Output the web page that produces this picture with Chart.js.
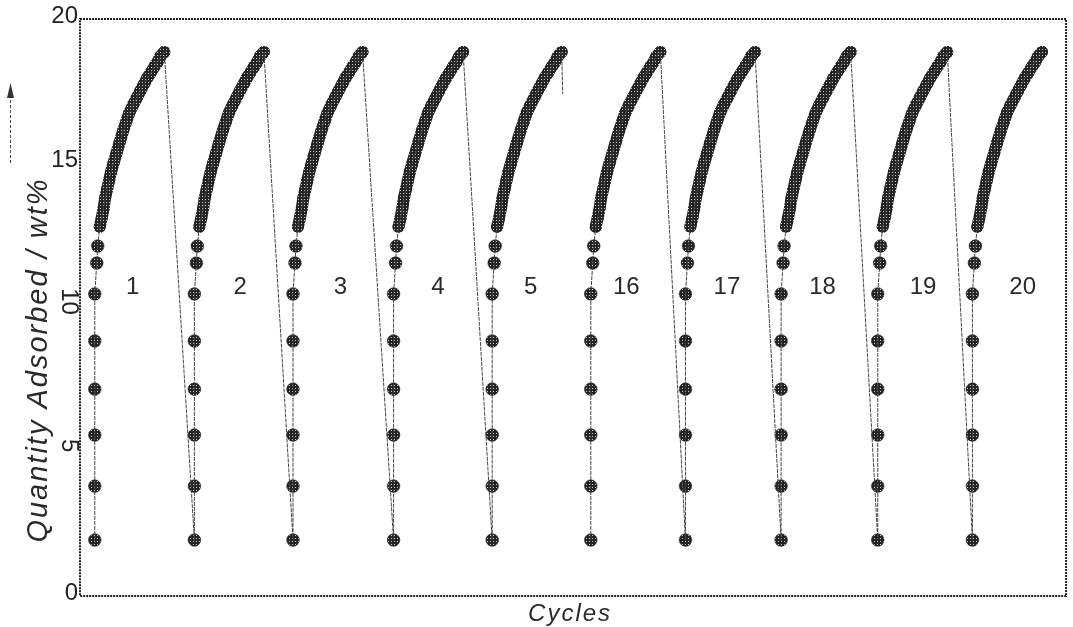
<!DOCTYPE html>
<html>
<head>
<meta charset="utf-8">
<script src="https://cdn.jsdelivr.net/npm/chart.js@4.4.1/dist/chart.umd.min.js"></script>
<style>
  body { margin: 0; background: #fff; }
  #wrap { width: 1073px; height: 627px; }
</style>
</head>
<body>
<div id="wrap"><canvas id="cycleChart" width="1073" height="627"></canvas></div>
<script>
// cycle numbers written next to each adsorption run
const cycleNames = ['1', '2', '3', '4', '5', '16', '17', '18', '19', '20'];
// time where each run starts (x axis, arbitrary units 0..100)
const cycleStart = [1.5, 11.6, 21.6, 31.8, 41.8, 51.8, 61.4, 71.1, 80.9, 90.5];

// the separate dots at the start of a run
const rampQty = [1.94, 3.81, 5.58, 7.17, 8.84, 10.47, 11.54, 12.13];
const rampShift = [0, 0, 0, 0, 0, 0, 0.2, 0.3];

const curveQty = [12.8, 13.1, 13.45, 13.8, 14.1, 14.4, 14.7, 15.0, 15.35, 15.7, 16.15, 16.45,
                  16.75, 17.0, 17.3, 17.5, 17.75, 17.95, 18.13, 18.35, 18.5, 18.7, 18.86];
const curveShift = [0.5, 0.7, 0.9, 1.05, 1.25, 1.45, 1.65, 1.9, 2.2, 2.5, 2.9, 3.2,
                    3.5, 3.85, 4.3, 4.6, 5.0, 5.3, 5.65, 6.05, 6.35, 6.65, 7.05];

// the trace after cycle 5 stops short
const brokenCycle = 4;
const brokenDropQty = 17.4;

// where the cycle numbers sit
const labelX = [5.35, 16.25, 26.4, 36.3, 45.7, 55.4, 65.6, 75.3, 85.5, 95.6];
const labelQty = 10.7;

const yTicks = [0, 5, 10, 15, 20];
const rotatedTicks = [5, 10];

const FONT = "'Liberation Sans', Arial, sans-serif";

// build the point lists
const ramp = [];
const curve = [];
const trace = [];
cycleStart.forEach((x0, c) => {
  rampQty.forEach((q, i) => {
    const p = { x: x0 + rampShift[i], y: q };
    ramp.push(p);
    trace.push(p);
  });
  curveQty.forEach((q, i) => {
    const p = { x: x0 + curveShift[i], y: q };
    curve.push(p);
    trace.push(p);
  });
  const last = curveShift.length - 1;
  curve.push({ x: x0 + curveShift[last] + 0.3, y: null });
  if (c === brokenCycle) {
    trace.push({ x: x0 + curveShift[last] + 0.1, y: brokenDropQty });
    trace.push({ x: x0 + curveShift[last] + 0.2, y: null });
  }
});

const canvas = document.getElementById('cycleChart');
const ctx = canvas.getContext('2d');

// small halftone tile, the scanned markers look like this
const tile = document.createElement('canvas');
tile.width = 3;
tile.height = 3;
const tc = tile.getContext('2d');
tc.fillStyle = '#242424';
tc.fillRect(0, 0, 3, 3);
tc.fillStyle = '#c8c8c8';
tc.fillRect(1, 1, 1, 1);
const halftone = ctx.createPattern(tile, 'repeat');

const decorations = {
  id: 'decorations',
  afterDraw(chart) {
    const c = chart.ctx;
    const a = chart.chartArea;
    const xs = chart.scales.x;
    const ys = chart.scales.y;
    c.save();

    // frame
    c.strokeStyle = '#1e1e1e';
    c.lineWidth = 2;
    c.setLineDash([2, 1]);
    c.strokeRect(a.left, a.top, a.right - a.left, a.bottom - a.top);
    c.setLineDash([]);

    // y tick labels
    c.fillStyle = '#222';
    c.font = '24px ' + FONT;
    yTicks.forEach(v => {
      const py = ys.getPixelForValue(v);
      if (rotatedTicks.includes(v)) {
        c.save();
        c.translate(a.left - 11, py - 6);
        c.rotate(Math.PI / 2);
        c.textAlign = 'center';
        c.textBaseline = 'middle';
        c.fillText(String(v), 0, 0);
        c.restore();
      } else {
        c.textAlign = 'right';
        c.textBaseline = 'middle';
        c.fillText(String(v), a.left - 2, py - 3);
      }
    });

    // cycle numbers
    c.font = '24px ' + FONT;
    c.fillStyle = '#2a2a2a';
    c.textAlign = 'center';
    c.textBaseline = 'middle';
    cycleNames.forEach((n, i) => {
      c.fillText(n, xs.getPixelForValue(labelX[i]), ys.getPixelForValue(labelQty));
    });

    // axis titles
    c.fillStyle = '#2a2a2a';
    c.font = 'italic 24px ' + FONT;
    c.letterSpacing = '2px';
    c.textAlign = 'center';
    c.textBaseline = 'alphabetic';
    c.fillText('Cycles', (a.left + a.right) / 2 - 3, 621);

    c.save();
    c.font = 'italic 29px ' + FONT;
    c.letterSpacing = '2px';
    c.translate(47, 360);
    c.rotate(-Math.PI / 2);
    c.fillText('Quantity Adsorbed / wt%', 0, 0);
    c.restore();
    c.letterSpacing = '0px';

    // little arrow left of the title
    c.strokeStyle = '#444';
    c.lineWidth = 1;
    c.setLineDash([3, 2]);
    c.beginPath();
    c.moveTo(10.5, 163);
    c.lineTo(10.5, 96);
    c.stroke();
    c.setLineDash([]);
    c.fillStyle = '#333';
    c.beginPath();
    c.moveTo(10.5, 83);
    c.lineTo(14, 98);
    c.lineTo(7, 98);
    c.closePath();
    c.fill();

    c.restore();
  }
};

new Chart(canvas, {
  type: 'line',
  data: {
    datasets: [
      {
        label: 'trace',
        data: trace,
        borderColor: '#444',
        borderWidth: 1,
        borderDash: [4, 1],
        pointRadius: 0,
        fill: false,
        spanGaps: false,
      },
      {
        label: 'curve',
        data: curve,
        borderColor: halftone,
        borderWidth: 12,
        borderCapStyle: 'round',
        borderJoinStyle: 'round',
        pointRadius: 6,
        pointBackgroundColor: halftone,
        pointBorderWidth: 0,
        fill: false,
        spanGaps: false,
      },
      {
        label: 'ramp',
        data: ramp,
        showLine: false,
        pointRadius: 6.3,
        pointBackgroundColor: halftone,
        pointBorderColor: '#1e1e1e',
        pointBorderWidth: 0.6,
      },
    ],
  },
  options: {
    responsive: false,
    animation: false,
    devicePixelRatio: 1,
    layout: { padding: { top: 19, right: 2, left: 0, bottom: 0 } },
    plugins: {
      legend: { display: false },
      tooltip: { enabled: false },
    },
    scales: {
      x: {
        type: 'linear',
        min: 0,
        max: 100,
        grid: { display: false },
        border: { display: false },
        ticks: { display: false },
        afterFit(scale) { scale.height = 31; },
      },
      y: {
        min: 0,
        max: 20,
        grid: { display: false },
        border: { display: false },
        ticks: { display: false },
        afterFit(scale) { scale.width = 80; },
      },
    },
  },
  plugins: [decorations],
});
</script>
</body>
</html>
